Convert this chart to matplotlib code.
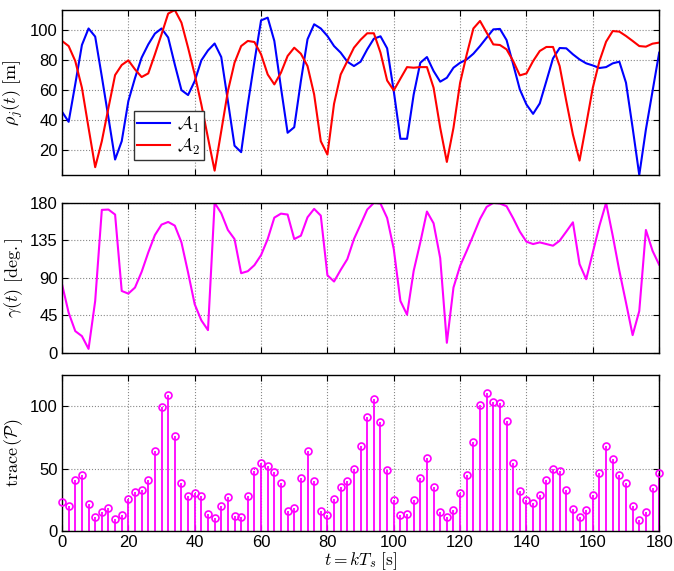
import numpy as np
import matplotlib
matplotlib.use("Agg")
import matplotlib.pyplot as plt

plt.rcParams['mathtext.fontset'] = 'cm'
plt.rcParams['font.family'] = ['Liberation Sans', 'DejaVu Sans']

# time axis, one sample every 2 s
t = np.arange(0, 182, 2)

rho_1 = [45.6, 38.9, 64, 90, 101, 95.6, 69, 41.6, 13.8, 26,
         52.7, 68, 81.6, 90.4, 97.6, 101, 95, 77, 60, 56.7,
         66, 79.8, 86.4, 91, 82, 52.7, 23, 18.7, 50.4, 79,
         106.4, 108.2, 92.7, 61.6, 31.6, 35.3, 66, 93.8, 103.8, 101,
         96, 89.3, 84.9, 78.9, 76, 78.9, 87.1, 94.2, 95.8, 87.8,
         59.3, 27.6, 27.6, 57, 78.2, 82, 72.7, 65.6, 68.2, 74.9,
         78.2, 80.4, 84.2, 89.3, 94.9, 100.4, 100.7, 93.3, 77.1, 60.4,
         50.4, 44.2, 51.1, 66, 81.1, 88, 87.8, 83.8, 80.4, 77.8,
         76.4, 74.7, 75.3, 77.8, 78.9, 64.9, 34.9, 3.5, 33.8, 59.3,
         84.9]

rho_2 = [92.7, 89.3, 79.3, 61.6, 34.9, 8.7, 26, 48.2, 70, 76.7,
         79.8, 73.8, 68.7, 71.1, 83.8, 97.1, 110.9, 113.3, 104.9, 88.2,
         70.4, 50.4, 28.2, 6.4, 32.7, 59.3, 78.2, 89.3, 92.7, 92,
         83.8, 70.4, 63.8, 71.6, 82.7, 88.2, 84.2, 76, 57.1, 26,
         17.1, 50.9, 70.4, 79.3, 88.2, 93.5, 97.8, 97.8, 84.9, 66.4,
         59.8, 67.6, 75.3, 74.9, 75.3, 75.3, 61.6, 34.9, 12.2, 34.9,
         64.9, 83.8, 101, 106, 98.2, 90.4, 90, 87.1, 79.3, 69.8,
         71.1, 79.3, 86, 88.7, 88.7, 76, 52.7, 30.4, 13.1, 37.1,
         61.6, 79.3, 92.2, 99.3, 98.9, 96, 92.7, 89.3, 88.9, 90.9,
         91.6]

gamma = [82.4, 48.2, 26.1, 20.1, 4.8, 62.3, 171.6, 172, 166, 74.3,
         71.1, 78.4, 97.2, 120.5, 141.4, 153.9, 157.1, 152.7, 132.6, 96.4,
         58.3, 39, 27.3, 180, 167.6, 147.5, 136.6, 95.6, 98, 105.3,
         117.3, 136.6, 162.3, 167.1, 166, 136.6, 140.6, 162.7, 172.8, 164.7,
         93.2, 85.6, 99.6, 112.5, 136.6, 154, 172, 180, 179.2, 161.9,
         124.6, 62.3, 45.8, 98.4, 132.6, 169.6, 155.5, 113.7, 12.1, 78.4,
         104.5, 122.5, 141.4, 160.7, 175.2, 180, 179.2, 176, 161.5, 145.5,
         133.4, 130.6, 132.6, 130.6, 128.6, 134.6, 145.5, 156.7, 106.5, 88.4,
         120.5, 152.7, 180, 140.6, 98.4, 60.3, 21.3, 50.2, 147.5, 122.5,
         105.7]

trace_P = [22.9, 19.9, 41, 44.7, 21.5, 11.4, 15.2, 18.6, 9.6, 12.8,
           25.3, 31.4, 33, 41.2, 64.1, 99.2, 108.8, 76.1, 38.8, 28.2,
           30.3, 27.7, 13.8, 10.6, 19.7, 26.9, 12.2, 11.2, 27.7, 48.1,
           54.5, 52.1, 47.1, 38.3, 16.2, 18.1, 42.8, 64.4, 40.2, 16,
           12.5, 25.5, 35.6, 40.2, 49.5, 68.1, 91.5, 105.9, 87, 49.2,
           25, 12.5, 13.6, 25, 42.8, 58.2, 35.6, 15.4, 10.9, 16.8,
           30.3, 45.2, 71.3, 101.1, 110.4, 103.2, 102.7, 88.3, 54.3, 31.9,
           24.5, 22.1, 28.5, 40.7, 50, 48.1, 33, 17.3, 11.4, 17,
           28.5, 46.3, 68.4, 57.7, 44.9, 38.8, 19.7, 8.8, 15.4, 34.3,
           46.3]

fig = plt.figure(figsize=(6.74, 5.71), dpi=100)
left, width = 0.092, 0.886
ax1 = fig.add_axes([left, 0.6935, width, 0.289])
ax2 = fig.add_axes([left, 0.382, width, 0.2627])
ax3 = fig.add_axes([left, 0.070, width, 0.2732])

ax1.plot(t, rho_1, color='#0000ff', lw=1.5, label=r'$\mathcal{A}_1$')
ax1.plot(t, rho_2, color='#ff0000', lw=1.5, label=r'$\mathcal{A}_2$')
ax1.set_ylim(min(min(rho_1), min(rho_2)), max(max(rho_1), max(rho_2)))
ax1.set_yticks([20, 40, 60, 80, 100])
ax1.set_ylabel(r'$\rho_j(t)\ [\mathrm{m}]$', fontsize=13)
leg = ax1.legend(loc='lower left', bbox_to_anchor=(0.105, 0.035), fontsize=13,
                 fancybox=False, framealpha=1, edgecolor='#333333',
                 handlelength=1.8, borderpad=0.2, labelspacing=0.1, handletextpad=0.4)
leg.get_frame().set_linewidth(1.0)

ax2.plot(t, gamma, color='#ff00ff', lw=1.5)
ax2.set_ylim(0, 180)
ax2.set_yticks([0, 45, 90, 135, 180])
ax2.set_ylabel(r'$\gamma(t)\ [\mathrm{deg.}]$', fontsize=13)

ml, sl, bl = ax3.stem(t, trace_P, basefmt=' ')
plt.setp(sl, color='#ff00ff', lw=1.3)
plt.setp(ml, color='#ff00ff', marker='o', markersize=5, markerfacecolor='none',
         markeredgewidth=1.2, clip_on=False, zorder=3)
ax3.set_ylim(0, 125)
ax3.set_yticks([0, 50, 100])
ax3.set_ylabel(r'$\mathrm{trace}\,(\mathcal{P})$', fontsize=13)
ax3.set_xlabel(r'$t = kT_s\ [\mathrm{s}]$', fontsize=12.5, labelpad=0)

for ax in (ax1, ax2, ax3):
    ax.set_xlim(0, 180)
    ax.set_xticks(np.arange(0, 181, 20))
    ax.grid(True, linestyle=':', color='#888888', lw=0.8)
    ax.tick_params(direction='in', top=True, right=True, labelsize=12, length=4, pad=3)
    for s in ax.spines.values():
        s.set_linewidth(1.0)
ax1.set_xticklabels([])
ax2.set_xticklabels([])

fig.savefig('out.png', dpi=100)
